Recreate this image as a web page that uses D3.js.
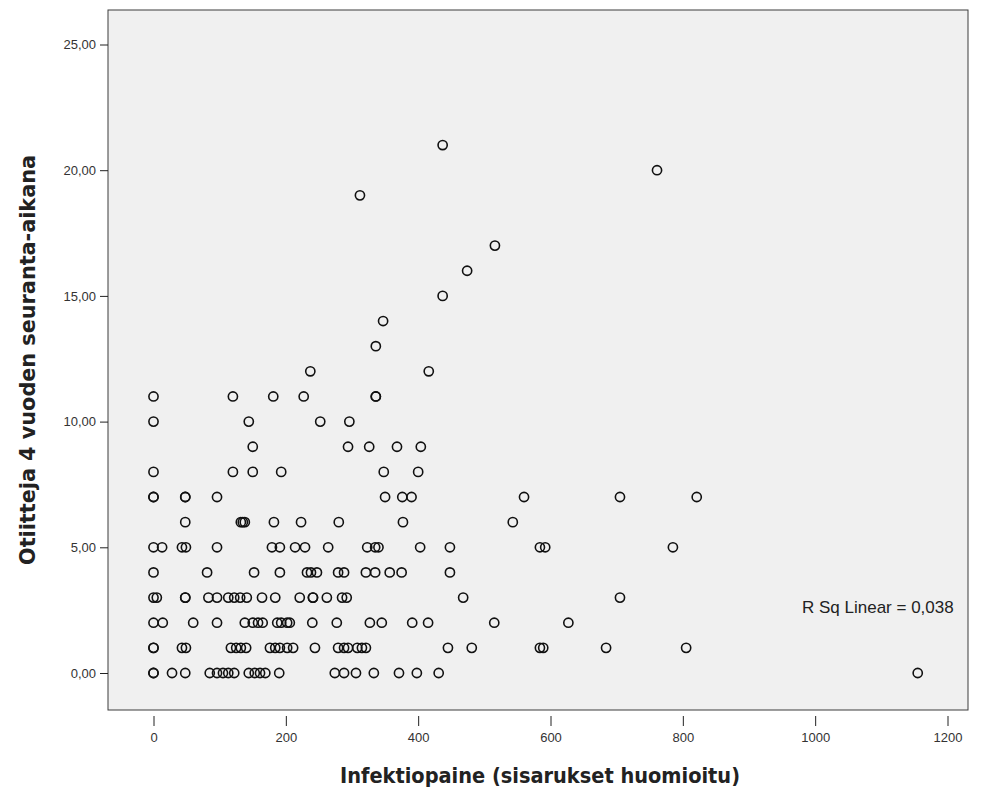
<!DOCTYPE html>
<html><head><meta charset="utf-8">
<script src="https://cdn.jsdelivr.net/npm/d3@7"></script>
<style>body{margin:0;background:#fff}</style></head>
<body><svg id="c" width="985" height="791"></svg>
<script>
// Tick values
const xTicks = [0, 200, 400, 600, 800, 1000, 1200];
const yTicks = [0, 5, 10, 15, 20, 25];

// Infection load (x) values grouped by otitis count (y)
const row0 = [0, 0, 28, 48, 85, 96, 105, 113, 122, 144, 153, 161, 169, 190, 274, 288, 306, 333, 371, 398, 431, 1155];
const row1 = [0, 0, 43, 49, 117, 125, 132, 140, 176, 184, 191, 202, 211, 244, 279, 288, 294, 308, 315, 321, 445, 481, 584, 589, 684, 805];
const row2 = [0, 14, 60, 96, 138, 150, 158, 165, 187, 193, 202, 206, 240, 277, 327, 345, 391, 415, 515, 627];
const row3 = [0, 5, 48, 48, 83, 96, 113, 122, 131, 141, 164, 184, 221, 241, 241, 262, 285, 292, 468, 705];
const row4 = [0, 81, 152, 191, 232, 238, 247, 279, 288, 321, 335, 357, 375, 448];
const row5 = [0, 13, 43, 49, 96, 179, 191, 214, 229, 264, 323, 335, 340, 403, 448, 584, 592, 785];
const row6 = [48, 132, 135, 138, 182, 223, 280, 377, 543];
const row7 = [0, 0, 48, 48, 96, 350, 376, 390, 560, 705, 821];
const row8 = [0, 120, 150, 193, 348, 400];
const row9 = [150, 294, 326, 368, 404];
const row10 = [0, 144, 252, 296];
const row11 = [0, 120, 181, 227, 336, 336];
const row12 = [237, 416];
const row13 = [336];
const row14 = [347];
const row15 = [437];
const row16 = [474];
const row17 = [516];
const row19 = [312];
const row20 = [761];
const row21 = [437];

const rowCounts = [0,1,2,3,4,5,6,7,8,9,10,11,12,13,14,15,16,17,19,20,21];
const rowValues = [row0,row1,row2,row3,row4,row5,row6,row7,row8,row9,row10,row11,row12,row13,row14,row15,row16,row17,row19,row20,row21];

const rSqText = "R Sq Linear = 0,038";
const xTitle = "Infektiopaine (sisarukset huomioitu)";
const yTitle = "Otiitteja 4 vuoden seuranta-aikana";

const points = [];
rowCounts.forEach((c, i) => rowValues[i].forEach(v => points.push({x: v, y: c})));

const svg = d3.select("#c");
const frame = {left: 108, top: 10, right: 968, bottom: 710};

const x = d3.scaleLinear().domain([0, 1200]).range([153.5, 947.5]);
const y = d3.scaleLinear().domain([0, 25]).range([673, 44.5]);

const titleFont = "'DejaVu Sans Condensed', 'DejaVu Sans', sans-serif";

svg.append("rect")
  .attr("x", frame.left).attr("y", frame.top)
  .attr("width", frame.right - frame.left).attr("height", frame.bottom - frame.top)
  .attr("fill", "#f0f0f0").attr("stroke", "#3c3c3c").attr("stroke-width", 1);

// Y axis
const yAxis = svg.append("g").attr("transform", `translate(${frame.left},0)`)
  .call(d3.axisLeft(y).tickValues(yTicks).tickSize(8).tickPadding(4)
    .tickFormat(d => d3.format(".2f")(d).replace(".", ",")));
yAxis.select(".domain").remove();
yAxis.selectAll("line").attr("stroke", "#222");
yAxis.selectAll("text").attr("font-family", "'Liberation Sans', Arial, sans-serif")
  .attr("font-size", 13).attr("fill", "#333");

// X axis
const xAxis = svg.append("g").attr("transform", `translate(0,${frame.bottom + 6})`)
  .call(d3.axisBottom(x).tickValues(xTicks).tickSize(10).tickPadding(7).tickFormat(d3.format("d")));
xAxis.select(".domain").remove();
xAxis.selectAll("line").attr("stroke", "#222");
xAxis.selectAll("text").attr("font-family", "'Liberation Sans', Arial, sans-serif")
  .attr("font-size", 13).attr("fill", "#333");

// Points
svg.append("g").selectAll("circle").data(points).join("circle")
  .attr("cx", d => x(d.x)).attr("cy", d => y(d.y)).attr("r", 4.6)
  .attr("fill", "none").attr("stroke", "#111").attr("stroke-width", 1.6);

// R Sq annotation
svg.append("text").attr("x", 802).attr("y", 613)
  .attr("font-family", "'Liberation Sans', Arial, sans-serif").attr("font-size", 17).attr("fill", "#222")
  .text(rSqText);

// Titles
svg.append("text").attr("x", 540).attr("y", 783)
  .attr("text-anchor", "middle").attr("font-family", titleFont).style("font-stretch", "condensed")
  .attr("font-weight", "bold").attr("font-size", 21).attr("fill", "#222")
  .attr("textLength", 400).attr("lengthAdjust", "spacingAndGlyphs").text(xTitle);

svg.append("text").attr("transform", `translate(35,360) rotate(-90)`)
  .attr("text-anchor", "middle").attr("font-family", titleFont).style("font-stretch", "condensed")
  .attr("font-weight", "bold").attr("font-size", 21).attr("fill", "#222")
  .attr("textLength", 410).attr("lengthAdjust", "spacingAndGlyphs").text(yTitle);
</script>
</body></html>
